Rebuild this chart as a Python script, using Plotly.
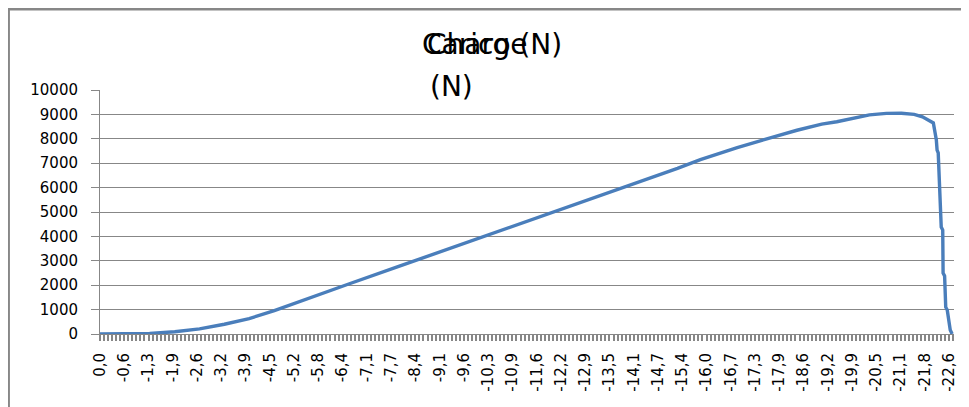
import numpy as np
import plotly.graph_objects as go

# Data (displacement in mm, load in N)
disp = [0.0, -0.66, -1.32, -1.99, -2.65, -3.31, -3.97, -4.64, -5.30, -5.96, -6.62,
        -7.95, -9.67, -12.19, -14.71, -15.37, -15.98, -16.96, -17.91, -18.55, -19.21,
        -19.61, -20.48, -20.93, -21.33, -21.67, -21.89, -22.18,
        -22.26, -22.28, -22.31, -22.34, -22.36, -22.39, -22.43, -22.44, -22.48,
        -22.51, -22.55, -22.63, -22.68]
load = [0, 3, 25, 90, 210, 400, 630, 960, 1330, 1690, 2050,
        2770, 3700, 5070, 6430, 6790, 7150, 7640, 8070, 8350, 8600,
        8700, 8980, 9040, 9045, 9000, 8900, 8650,
        7950, 7540, 7420, 6190, 6100, 4385, 4260, 2500, 2380,
        1100, 980, 160, 0]

tick_labels = ["0,0", "-0,6", "-1,3", "-1,9", "-2,6", "-3,2", "-3,9", "-4,5", "-5,2",
               "-5,8", "-6,4", "-7,1", "-7,7", "-8,4", "-9,1", "-9,6", "-10,3", "-10,9",
               "-11,6", "-12,2", "-12,9", "-13,5", "-14,1", "-14,7", "-15,4", "-16,0",
               "-16,7", "-17,3", "-17,9", "-18,6", "-19,2", "-19,9", "-20,5", "-21,1",
               "-21,8", "-22,6"]

title_it = "Carico (N)"
title_fr_1 = "Charge"
title_fr_2 = "(N)"

OFF = 8  # page body margin
W, H = 969 - OFF, 407 - OFF
L, R, T, B = 100 - OFF, 11, 90 - OFF, 73
pw, ph = W - L - R, H - T - B

def px(x):
    return (x - OFF - L) / pw

def py(y):
    return (H - B - (y - OFF)) / ph

SUB = 6
step = -22.6 / (len(tick_labels) - 1)
tickvals, ticktext = [], []
for i in range((len(tick_labels) - 1) * SUB + 3):
    tickvals.append(i * step / SUB)
    ticktext.append(tick_labels[i // SUB] if i % SUB == 0 and i // SUB < len(tick_labels) else "")

fig = go.Figure()
fig.add_trace(go.Scatter(x=disp, y=load, mode="lines",
                         line=dict(color="#4A7EBB", width=3.4), showlegend=False,
                         hoverinfo="skip"))

gray = "#878787"
font = "DejaVu Sans"

fig.update_layout(
    width=W, height=H,
    margin=dict(l=L, r=R, t=T, b=B, pad=0),
    paper_bgcolor="white", plot_bgcolor="white",
    font=dict(family=font, size=15, color="black"),
    xaxis=dict(range=[0, -22.73], tickmode="array", tickvals=tickvals, ticktext=ticktext,
               tickangle=-90, ticks="outside", ticklen=6, tickcolor=gray, tickwidth=2,
               showline=True, linecolor=gray, linewidth=1, showgrid=False, zeroline=False,
               tickfont=dict(size=15, family=font), ticklabelstandoff=6),
    yaxis=dict(range=[0, 10000], dtick=1000, tickformat="d", ticks="outside", ticklen=8,
               tickcolor=gray, showline=True, linecolor=gray, linewidth=1, showgrid=True,
               gridcolor=gray, gridwidth=1, zeroline=False,
               tickfont=dict(size=15, family=font), ticklabelstandoff=10),
)

# Overlapping titles
fig.add_annotation(x=px(422), y=py(26), xref="paper", yref="paper", text=title_it,
                   showarrow=False, xanchor="left", yanchor="top",
                   font=dict(size=28, family=font, color="black"))
fig.add_annotation(x=px(427), y=py(26), xref="paper", yref="paper", text=title_fr_1,
                   showarrow=False, xanchor="left", yanchor="top",
                   font=dict(size=28, family=font, color="black"))
fig.add_annotation(x=px(430), y=py(68), xref="paper", yref="paper", text=title_fr_2,
                   showarrow=False, xanchor="left", yanchor="top",
                   font=dict(size=28, family=font, color="black"))

# Outer frame (top and left edges visible)
fig.add_shape(type="line", xref="paper", yref="paper", x0=px(7), x1=px(975), y0=py(9), y1=py(9),
              line=dict(color=gray, width=3))
fig.add_shape(type="line", xref="paper", yref="paper", x0=px(8), x1=px(8), y0=py(8), y1=py(412),
              line=dict(color=gray, width=3))

fig.write_html("out.html")
